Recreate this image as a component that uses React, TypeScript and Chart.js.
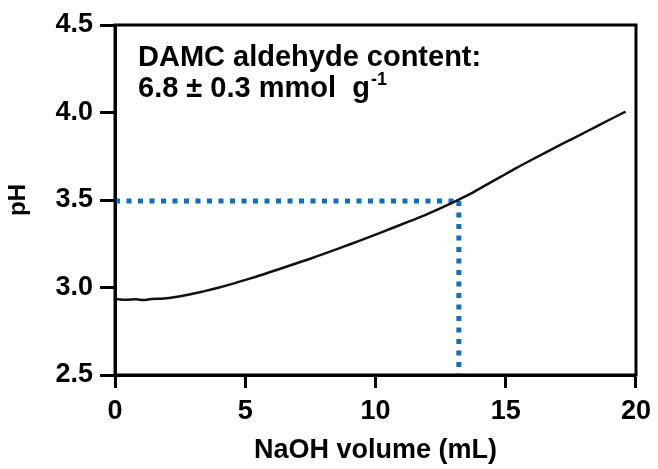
import React, { useEffect, useRef } from "react";
import { Chart, registerables } from "chart.js";

Chart.register(...registerables);

// NaOH volume (mL) and measured pH
const volumeML = [0, 0.4, 0.8, 1.1, 1.4, 1.8, 2.2, 2.8, 3.4, 4.0, 4.6, 5.2, 5.8, 6.4, 7.0, 7.6, 8.2, 8.8, 9.4, 10.0, 10.6, 11.2, 11.8, 12.4, 13.0, 13.6, 14.2, 14.8, 15.4, 16.0, 16.6, 17.2, 17.8, 18.4, 19.0, 19.6];
const pHValues = [2.935, 2.93, 2.933, 2.928, 2.934, 2.936, 2.943, 2.958, 2.978, 3.0, 3.025, 3.052, 3.08, 3.11, 3.14, 3.17, 3.202, 3.235, 3.268, 3.302, 3.337, 3.372, 3.408, 3.447, 3.488, 3.532, 3.582, 3.632, 3.682, 3.73, 3.777, 3.823, 3.868, 3.914, 3.96, 4.005];

// Endpoint marker (dotted guide lines)
const endpointVolume = 13.2;
const endpointPH = 3.495;

const xTicks = [0, 5, 10, 15, 20];
const yTicks = [2.5, 3.0, 3.5, 4.0, 4.5];

const annotationLine1 = "DAMC aldehyde content:";
const annotationLine2 = "6.8 \u00b1 0.3 mmol  g";
const annotationSup = "-1";

const FONT = "'Liberation Sans', Arial, sans-serif";

export default function App() {
  const ref = useRef<HTMLCanvasElement | null>(null);

  useEffect(() => {
    document.body.style.margin = "0";
    const canvas = ref.current;
    if (!canvas) return;

    const framePlugin = {
      id: "frame",
      afterDatasetsDraw(chart: any) {
        const { ctx, chartArea } = chart;
        ctx.save();
        ctx.strokeStyle = "#000";
        ctx.lineWidth = 3;
        ctx.strokeRect(chartArea.left, chartArea.top, chartArea.right - chartArea.left, chartArea.bottom - chartArea.top);
        ctx.restore();
      },
      afterDraw(chart: any) {
        const { ctx, chartArea } = chart;
        ctx.save();
        ctx.fillStyle = "#000";
        ctx.textBaseline = "alphabetic";
        ctx.textAlign = "left";
        ctx.font = `bold 29px ${FONT}`;
        const x0 = chartArea.left + 23;
        ctx.fillText(annotationLine1, x0, chartArea.top + 41);
        ctx.fillText(annotationLine2, x0, chartArea.top + 72);
        const w = ctx.measureText(annotationLine2).width;
        ctx.font = `bold 18px ${FONT}`;
        ctx.fillText(annotationSup, x0 + w + 1, chartArea.top + 60);
        ctx.restore();
      },
    };

    const chart = new Chart(canvas, {
      type: "line",
      data: {
        datasets: [
          {
            data: volumeML.map((v, i) => ({ x: v, y: pHValues[i] })),
            borderColor: "#111",
            borderWidth: 2.5,
            pointRadius: 0,
            cubicInterpolationMode: "monotone",
            order: 0,
          },
          {
            data: [
              { x: 0, y: endpointPH },
              { x: endpointVolume, y: endpointPH },
            ],
            borderColor: "#0B6FC6",
            borderWidth: 5,
            borderDash: [5, 6.5],
            pointRadius: 0,
            order: 1,
            clip: false as any,
          },
          {
            data: [
              { x: endpointVolume, y: endpointPH },
              { x: endpointVolume, y: 2.5 },
            ],
            borderColor: "#0B6FC6",
            borderWidth: 5,
            borderDash: [5, 6.5],
            pointRadius: 0,
            order: 1,
            clip: false as any,
          },
        ],
      },
      options: {
        animation: false,
        responsive: false,
        layout: { padding: { top: 25, right: 21, left: 0, bottom: 0 } },
        plugins: { legend: { display: false }, tooltip: { enabled: false } },
        scales: {
          x: {
            type: "linear",
            min: 0,
            max: 20,
            afterBuildTicks: (s: any) => {
              s.ticks = xTicks.map((v) => ({ value: v }));
            },
            afterFit: (s: any) => {
              s.height = 94;
            },
            ticks: {
              color: "#000",
              font: { family: FONT, size: 27, weight: "bold" },
              padding: 7,
              maxRotation: 0,
              autoSkip: false,
            },
            grid: {
              display: true,
              drawOnChartArea: false,
              drawTicks: true,
              tickLength: 13,
              tickWidth: 3,
              tickColor: "#000",
            },
            border: { display: true, color: "#000", width: 3 },
            title: {
              display: true,
              text: "NaOH volume (mL)",
              color: "#000",
              font: { family: FONT, size: 27, weight: "bold" },
              padding: { top: 0, bottom: 2 },
            },
          },
          y: {
            type: "linear",
            min: 2.5,
            max: 4.5,
            afterBuildTicks: (s: any) => {
              s.ticks = yTicks.map((v) => ({ value: v }));
            },
            afterFit: (s: any) => {
              s.width = 115;
            },
            ticks: {
              color: "#000",
              font: { family: FONT, size: 27, weight: "bold" },
              padding: 7,
              callback: (v: any) => Number(v).toFixed(1),
            },
            grid: {
              display: true,
              drawOnChartArea: false,
              drawTicks: true,
              tickLength: 15,
              tickWidth: 3,
              tickColor: "#000",
            },
            border: { display: true, color: "#000", width: 3 },
            title: {
              display: true,
              text: "pH",
              color: "#000",
              font: { family: FONT, size: 24, weight: "bold" },
              padding: { top: 4, bottom: 0 },
            },
          },
        },
      },
      plugins: [framePlugin],
    });

    return () => chart.destroy();
  }, []);

  return (
    <div style={{ width: 658, height: 469, background: "#fff" }}>
      <canvas ref={ref} width={658} height={469} style={{ display: "block" }} />
    </div>
  );
}
